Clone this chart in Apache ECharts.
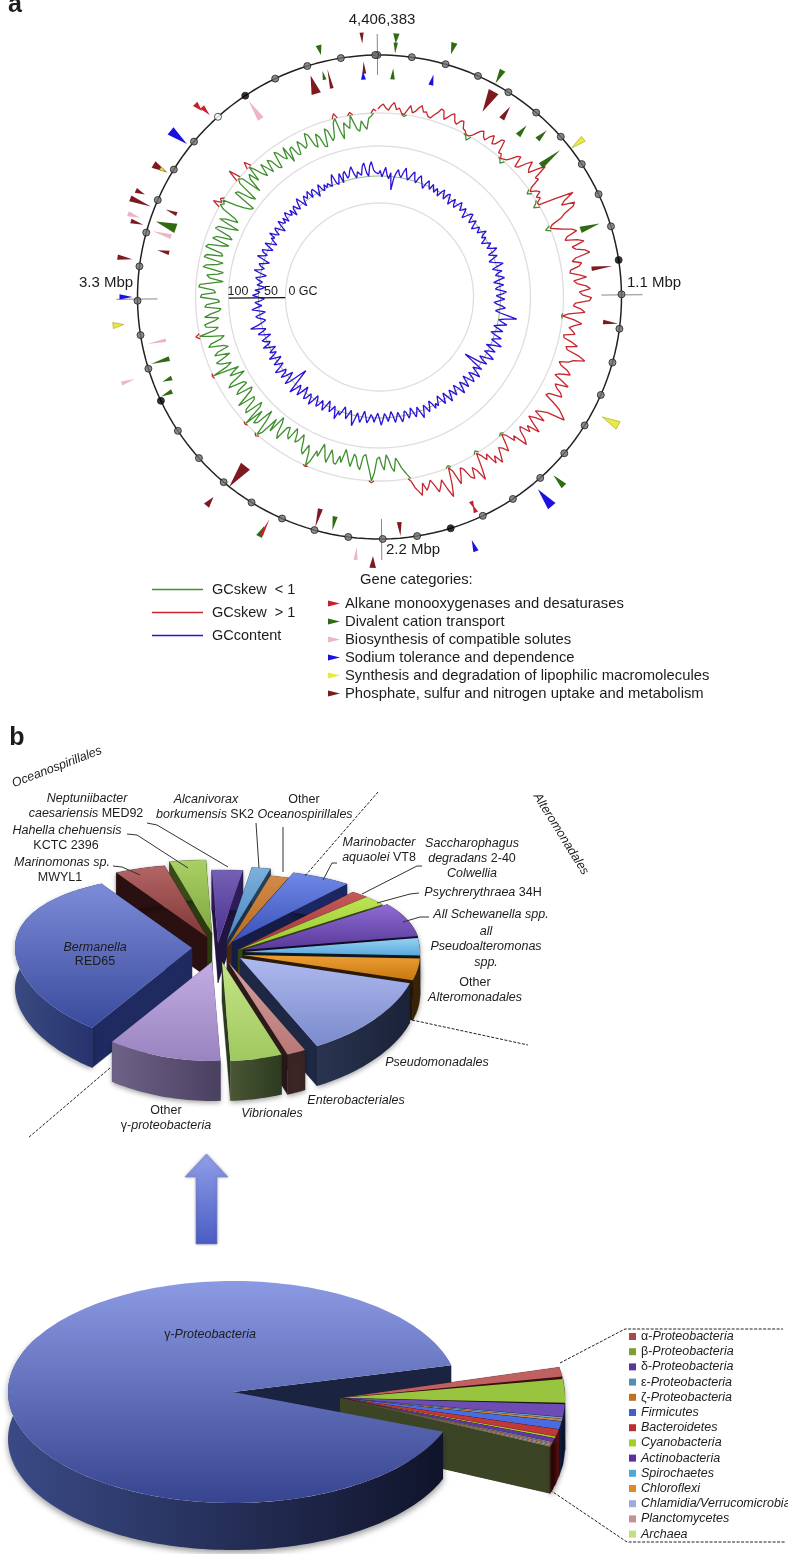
<!DOCTYPE html>
<html><head><meta charset="utf-8">
<style>html,body{margin:0;padding:0;background:#fff}#c{width:788px;height:1554px}</style>
<script src="https://cdn.jsdelivr.net/npm/echarts@6/dist/echarts.min.js"></script>
</head><body><div id="c"></div>
<script>
const genomeKb = 4406.383;
const skewStepKb = 10;
const skewDeviation = [
 4,7,9,5,3,8,11,4,6,1,-2,5,10,3,5,9,12,6,7,3,
 2,6,9,14,13,5,8,12,14,7,5,10,11,4,3,-1,-5,2,6,10,
 12,7,5,11,14,6,8,15,16,3,4,-1,-4,3,7,13,15,4,6,14,
 20,13,10,19,27,12,14,3,-4,5,8,2,5,-2,-6,18,36,25,20,33,
 30,19,14,3,-5,6,12,20,24,13,10,22,28,15,18,27,31,16,12,21,
 18,9,8,17,24,11,14,23,27,16,19,28,26,12,10,18,22,6,-1,12,
 20,13,8,12,15,4,5,14,20,9,11,24,31,20,16,7,10,18,22,12,
 8,17,25,12,15,21,24,11,9,19,28,33,38,20,14,9,22,13,7,15,
 25,12,18,7,10,19,24,9,13,3,-2,9,17,11,8,15,22,12,19,6,
 11,4,-3,14,27,15,10,21,18,8,5,13,20,5,-2,17,29,20,9,15,
 20,12,6,11,15,7,19,14,10,3,-4,-8,-12,-18,-22,-9,-13,-21,-26,-11,
 -16,-24,-22,-8,2,-10,-18,-26,-24,-10,-14,-22,-25,-12,-17,-23,-28,-14,-20,-11,
 -12,-19,-24,-10,-15,-22,-27,-13,-18,-6,1,-14,-20,-9,-12,-21,-27,-19,-16,-25,
 -29,-15,-18,-26,-24,-9,-14,-25,-30,-11,-24,-5,2,-18,-27,-9,-6,-20,1,-22,
 -26,-7,-10,-22,-24,-6,-16,-25,-28,-11,-15,-26,-24,-8,-12,-22,-30,-15,-20,-27,
 1,-16,-22,-12,-8,-18,-24,-9,-13,-25,-21,-6,-9,-20,-24,-11,4,-15,-20,-8,
 -7,-17,-22,-8,-14,-23,-25,-9,-11,-24,-22,-5,-6,-20,-18,-3,-4,-16,-27,-13,
 -10,-21,-26,-5,-8,-19,-24,-4,-6,-22,-20,-3,-5,-18,-25,-7,-10,-26,-22,-6,
 -8,-20,-28,-6,-12,-24,-19,-5,8,-3,3,-14,-22,-28,-30,-6,-8,-21,-26,-4,
 12,-3,-24,-9,-5,-16,7,-6,-14,-19,-6,-13,-20,-7,-10,-20,-22,-5,-8,-15,
 -18,-6,-24,-11,-10,-20,-21,-8,-12,-18,-16,-4,-7,-19,-22,-9,-13,-24,-25,-7,
 -10,-21,-18,-4,5,-14,-22,-6,-10,-13,3,-8,-15,-17,-7,-12,-16,-5,-3,4,
 2];
const gcContent = [
 51,57,46,54,63,49,43,54,24,45,55,61,52,48,58,66,54,46,51,58,
 63,51,45,55,60,52,46,40,51,57,49,43,54,48,42,51,46,39,49,55,
 46,40,51,54,45,37,46,52,43,39,48,55,49,42,46,52,45,36,43,51,
 54,46,39,45,51,43,36,42,49,45,40,48,55,46,42,49,43,37,45,52,
 48,42,49,58,51,40,46,54,45,37,43,52,60,48,39,46,55,46,42,51,
 57,45,37,46,54,43,39,48,58,51,40,46,55,45,36,42,51,57,46,40,
 49,63,79,58,48,55,64,51,42,51,60,48,40,49,61,52,45,55,66,51,
 40,51,60,48,42,54,63,51,39,46,57,45,16,33,55,46,40,51,60,46,
 40,52,58,46,37,48,57,46,40,51,60,46,37,45,54,45,39,49,58,46,
 37,46,55,45,36,43,52,46,54,43,37,48,55,46,40,51,61,49,39,48,
 55,45,37,48,54,43,40,51,58,48,40,49,57,45,37,46,54,45,40,51,
 60,48,39,46,55,46,42,51,57,46,37,48,58,49,42,54,66,51,40,48,
 57,45,37,46,54,48,63,51,42,49,55,45,37,49,58,48,42,52,57,45,
 39,51,61,48,43,54,58,46,37,49,60,48,42,54,64,39,18,32,51,60,
 45,37,49,58,46,42,54,61,49,40,48,55,45,37,48,57,46,40,51,45,
 37,48,58,46,42,51,55,45,37,49,58,48,42,52,68,54,46,39,43,51,
 55,45,37,48,60,51,42,49,54,43,37,48,58,49,45,54,42,37,51,46,
 42,51,55,45,37,49,60,48,43,51,54,45,37,49,61,51,45,54,57,46,
 39,49,57,46,37,45,51,46,58,48,42,51,55,45,37,48,57,48,45,54,
 42,52,58,49,45,54,39,51,55,46,43,54,61,51,40,51,57,49,51,60,
 45,55,58,51,40,51,60,49,45,55,48,54,55,46,58,66,49,45,54,63,
 45,60,64,51,54,63,69,55,48,58,61,51,66,72,54,48,66,73,58,54,
 54];
const tickKb = [];
for (let k = 0; k <= 4400; k += 100) tickKb.push(k);
const majorTicks = [1000,2000,3000,4000];
const openTicks = [3900];
// gene rows: position kb, base track, tip track, span kb
const alkaneGenes = [[3878,267,257,16],[3886,260,249,14],[2532,266,248,9],[1914,236,228,14],[1914,224,232,14]];
const divalentGenes = [[51,264,254,17],[51,255,244,12],[4246,259,249,16],[4239,224,233,12],[48,218,229,15],[3539,215,236,32],[3111,219,238,16],[3050,223,233,15],[3011,228,240,15],[2536,268,256,17],[2349,224,238,16],[1667,264,249,17],[882,212,232,22],[629,208,233,22],[558,223,236,18],[503,213,226,19],[355,258,243,17],[207,265,253,17]];
const solutesGenes = [[4000,214,236,22],[3535,265,252,14],[3509,217,236,16],[3171,218,237,11],[3084,272,258,11],[2273,264,251,11]];
const sodiumGenes = [[4361,218,226,16],[3782,267,246,25],[3311,260,247,14],[1955,272,260,14],[1726,271,249,25],[173,218,229,16]];
const lipophilicGenes = [[3683,254,248,10],[3236,268,257,16],[1454,271,253,22],[645,258,243,17]];
const phosphateGenes = [[4365,265,254,11],[4201,213,232,32],[4255,214,234,12],[4365,224,236,12],[3683,262,246,20],[3600,266,256,14],[3575,268,246,16],[3519,260,247,13],[3583,219,231,13],[3456,215,227,14],[3417,265,250,14],[2679,216,242,37],[2695,271,260,17],[2400,220,239,16],[2227,271,259,17],[2148,226,240,15],[1186,225,240,14],[1015,214,235,15],[428,216,231,19],[362,235,212,33]];
const geneCategories = ['Alkane monooxygenases and desaturases','Divalent cation transport','Biosynthesis of compatible solutes','Sodium tolerance and dependence','Synthesis and degradation of lipophilic macromolecules','Phosphate, sulfur and nitrogen uptake and metabolism'];
// pie b
const orderNames = ['Neptuniibacter caesariensis MED92','Alcanivorax borkumensis SK2','Other Oceanospirillales','Marinobacter aquaolei VT8','Saccharophagus degradans 2-40','Colwellia psychrerythraea 34H','All Schewanella spp.','all Pseudoalteromonas spp.','Other Alteromonadales','Pseudomonadales','Enterobacteriales','Vibrionales','Other γ-proteobacteria','Bermanella RED65','Marinomonas sp. MWYL1','Hahella chehuensis KCTC 2396'];
const orderShares = [2.8,1.7,1.7,5.6,1.7,2.2,7.2,3.3,3.9,13.3,1.7,4.7,10.3,31.9,4.7,3.3];
// pie bottom
const phylumNames = ['α-Proteobacteria','β-Proteobacteria','δ-Proteobacteria','ε-Proteobacteria','ζ-Proteobacteria','Firmicutes','Bacteroidetes','Cyanobacteria','Actinobacteria','Spirochaetes','Chloroflexi','Chlamidia/Verrucomicrobia','Planctomycetes','Archaea'];
const phylumShares = [1.3,2.9,1.5,0.2,0.25,0.9,0.8,0.2,0.45,0.1,0.1,0.1,0.15,0.05];
const gammaShare = 91;

const FONT = '"Liberation Sans", Arial, sans-serif';
const chart = echarts.init(document.getElementById('c'), null, {renderer:'canvas', width:788, height:1554});
const kbOf = i => i * skewStepKb;
const BASE_R = 184, OUTER_R = 242;
function circle(v){ const a = tickKb.flatMap(k => [[v,k],[v,k+25],[v,k+50],[v,k+75]]).filter(p => p[1] < genomeKb); a.push([v,genomeKb]); return a; }
const skewLow = skewDeviation.map((d,i) => {
  const p = skewDeviation[i-1], n = skewDeviation[i+1];
  return [d <= 0 ? BASE_R+d : ((p!==undefined&&p<=0)||(n!==undefined&&n<=0) ? BASE_R : null), kbOf(i)];
});
const skewHigh = skewDeviation.map((d,i) => {
  const p = skewDeviation[i-1], n = skewDeviation[i+1];
  return [d > 0 ? BASE_R+d : ((p!==undefined&&p>0)||(n!==undefined&&n>0) ? BASE_R : null), kbOf(i)];
});
const gcLine = gcContent.map((v,i) => [v,kbOf(i)]);
gcLine.push([gcContent[0],genomeKb]);
const plain = {silent:true, animation:false, symbol:'none', showSymbol:false, clip:false};
function ringSeries(v, color, width){ return Object.assign({type:'line', coordinateSystem:'polar', polarIndex:0, data:circle(v), lineStyle:{color, width}, z:1}, plain); }
function crossSeries(kb){ return Object.assign({type:'line', coordinateSystem:'polar', polarIndex:0, data:[[222,kb],[263,kb]], lineStyle:{color:'#888',width:1}, z:1}, plain); }
function geneSeries(name, color, rows, stroke){
  return {name, type:'custom', coordinateSystem:'polar', polarIndex:0, silent:true, animation:false, clip:false, itemStyle:{color}, z:4,
    data: rows.map(r => [r[1], r[0], r[2], r[3]]),
    renderItem(params, api){
      const base = api.value(0), kb = api.value(1), tip = api.value(2), span = api.value(3);
      const pts = [api.coord([base, kb-span/2]), api.coord([tip, kb]), api.coord([base, kb+span/2])];
      return {type:'polygon', shape:{points:pts}, style:{fill:color, stroke:stroke||'none', lineWidth:stroke?0.6:0}};
    }};
}
const series = [];
[94,151,BASE_R].forEach(r => series.push(ringSeries(r,'#dedede',1.3)));
series.push(Object.assign({type:'line', coordinateSystem:'polar', polarIndex:0, data:circle(121), lineStyle:{color:'#5d9c52',width:0.7}, z:1}, plain));
[0,1101.6,2203.2,3304.8].forEach(k => series.push(crossSeries(k)));
series.push(ringSeries(OUTER_R,'#222',1.5));
series.push(Object.assign({name:'GCskew  < 1', type:'line', coordinateSystem:'polar', polarIndex:0, data:skewLow, itemStyle:{color:'#3f8f2f'}, lineStyle:{color:'#3f8f2f',width:1.3}, z:3}, plain));
series.push(Object.assign({name:'GCskew  > 1', type:'line', coordinateSystem:'polar', polarIndex:0, data:skewHigh, itemStyle:{color:'#c6262e'}, lineStyle:{color:'#c6262e',width:1.3}, z:3}, plain));
series.push(Object.assign({name:'GCcontent', type:'line', coordinateSystem:'polar', polarIndex:1, data:gcLine, itemStyle:{color:'#2a10d8'}, lineStyle:{color:'#2a10d8',width:1.3}, z:3}, plain));
series.push(Object.assign({type:'line', coordinateSystem:'polar', polarIndex:1, data:[[0,3306],[100,3306]], lineStyle:{color:'#111',width:1.2}, z:3}, plain));
series.push({type:'scatter', coordinateSystem:'polar', polarIndex:0, silent:true, animation:false, clip:false, symbolSize:7, z:5,
  data: tickKb.map(k => [OUTER_R,k]),
  itemStyle:{borderColor:'#222', borderWidth:1, color:p => majorTicks.includes(p.value[1]) ? '#000' : openTicks.includes(p.value[1]) ? '#fff' : '#6e6e6e'}});
series.push(geneSeries(geneCategories[5],'#7d1a20',phosphateGenes));
series.push(geneSeries(geneCategories[1],'#2f6b12',divalentGenes));
series.push(geneSeries(geneCategories[0],'#c8202a',alkaneGenes));
series.push(geneSeries(geneCategories[2],'#eeb4c8',solutesGenes));
series.push(geneSeries(geneCategories[3],'#1a10e0',sodiumGenes));
series.push(geneSeries(geneCategories[4],'#eaea3c',lipophilicGenes,'#a0a030'));

// 3D pies
const lg = (a,b,h) => new echarts.graphic.LinearGradient(0,0,h?1:0,h?0:1,[{offset:0,color:a},{offset:1,color:b}]);
function arc(c, a0, a1){
  const out=[], n=Math.max(2,Math.ceil(Math.abs(a1-a0)/1.5));
  for(let i=0;i<=n;i++){ const d=(a0+(a1-a0)*i/n)*Math.PI/180, u=Math.sin(d), v=-Math.cos(d);
    const ry=(c.ryF+c.ryB)/2+(c.ryF-c.ryB)/2*v;
    out.push([c.cx+c.rx*u, c.cy+v*ry]); }
  return out;
}
const down=(p,d)=>[p[0],p[1]+d];
function slicePieces(c, a0, a1, look, rank){
  const pts=arc(c,a0,a1), ap=[c.cx,c.cy], d=c.depth, f=pts[0], l=pts[pts.length-1];
  const kids=[];
  const poly=(points,fill,z,extra)=>kids.push({type:'polygon',z2:rank*10+z,shape:{points},style:Object.assign({fill,stroke:fill.colorStops?null:fill,lineWidth:0.3},extra||{})});
  poly([ap,f,down(f,d),down(ap,d)],look.side,0);
  poly([ap,l,down(l,d),down(ap,d)],look.side,0);
  poly(pts.concat(pts.slice().reverse().map(p=>down(p,d))),look.wall,1,{shadowBlur:5,shadowColor:'rgba(0,0,0,0.35)',shadowOffsetY:2});
  poly([ap].concat(pts),lg(look.top[0],look.top[1]),2);
  return kids;
}
const bApex=[[218,943],[227,940],[227,947],[232,942],[238,950],[238,950],[243,950],[243,952],[243,955],[240,958],[228,962],[222,962],[212,962],[192,948],[207,937],[212,933]];
const bLook=[
 {top:['#7460b4','#4a3190'],wall:'#2c1c58',side:'#21143f'},
 {top:['#7cb0dc','#4a86be'],wall:'#24405c',side:'#1c3148'},
 {top:['#d08a48','#b86a20'],wall:'#5a3515',side:'#452810'},
 {top:['#7088e6','#3a50b8'],wall:'#1c2660',side:'#151c48'},
 {top:['#c65a5a','#a03535'],wall:'#501818',side:'#3c1212'},
 {top:['#bce454','#98c830'],wall:'#4a6018',side:'#364610'},
 {top:['#8e6cd4','#583898'],wall:'#1a1030',side:'#120a24'},
 {top:['#96d2f2','#5aa8dc'],wall:'#14202c',side:'#0e1820'},
 {top:['#ec9e34','#c87a10'],wall:'#3a2408',side:'#2c1a04'},
 {top:['#aeb9ee','#7a8acc'],wall:lg('#2a3450','#1a2238',true),side:'#1e2844'},
 {top:['#d4a09e','#b87876'],wall:'#3a2424',side:'#2c1a1a'},
 {top:['#c4e486','#a0c860'],wall:lg('#4a5634','#2c3a20',true),side:'#2c3a20'},
 {top:['#c2ace2','#9a84c0'],wall:lg('#6e6288','#4a4060',true),side:'#4a4060'},
 {top:['#7c8cd8','#3a4a9c'],wall:lg('#3a4a80','#24306c',true),side:'#1e2a60'},
 {top:['#b46464','#803838'],wall:'#2a1010',side:'#2a1010'},
 {top:['#a8d064','#80a840'],wall:'#3a4a18',side:'#2c3a10'}];
const bCum=[]; orderShares.reduce((s,v,i)=>{bCum[i]=s;return s+v;},0);
const bStart=-2;
const bRank=orderShares.map((v,i)=>-Math.cos((bStart+(bCum[i]+v/2)*3.6)*Math.PI/180));
const bSorted=bRank.map((v,i)=>[v,i]).sort((a,b)=>a[0]-b[0]).map(p=>p[1]);
series.push({type:'custom',name:'Gamma orders',coordinateSystem:'none',silent:true,animation:false,clip:false,z:2,
  data:orderShares.map(v=>[v]),
  renderItem(params,api){
    const i=params.dataIndex, a0=bStart+bCum[i]*3.6, a1=a0+api.value(0)*3.6;
    const c={cx:bApex[i][0],cy:bApex[i][1],rx:177,ryB:73,ryF:99,depth:40};
    return {type:'group',children:slicePieces(c,a0,a1,bLook[i],bSorted.indexOf(i)+1)};
  }});
const PHY=['#a84848','#7aa030','#5a3a98','#5090b8','#c07020','#4060d0','#b83030','#a0d020','#5a30a0','#50a8d8','#e08a20','#a0a8e0','#c89090','#c0e080'];
const phyTop=['#c06060','#98c440','#6e4cb4','#6aaad0','#d08838','#4a6ce0','#c03838','#a8d830','#6038a8','#60b8e0','#e89828','#a8b0e6','#b09080','#a8b890'];
const phyPad=[0.8,0.9,0.3,0,0,0.1,0.1,0,0,0,0,0,0,0];
const phyWall=['#3a1010','#121a0a','#141c3c','#141c3c','#141c3c','#141c3c','#5a1414','#5a1414','#3c0e0e','#3c0e0e','#3c0e0e','#3c0e0e','#3c0e0e','#3c0e0e'];
const gammaC={cx:233,cy:1392,rx:225,ryB:111,ryF:111,depth:47};
const wedgeC={cx:340,cy:1398,rx:225,ryB:135,ryF:135,depth:47};
const gapStart=111;
const phyTotal=phylumShares.reduce((a,b)=>a+b,0);
phylumNames.forEach((n,i)=>{
  const before=phylumShares.slice(0,i).reduce((a,b)=>a+b,0);
  series.push({name:n,type:'custom',coordinateSystem:'none',silent:true,animation:false,clip:false,z:2,itemStyle:{color:PHY[i]},
    data:[[phylumShares[i]]],
    renderItem(params,api){
      const scale=35/phyTotal/3.6;
      const a0=76+before*3.6*scale+phyPad[i], a1=76+(before+api.value(0))*3.6*scale-phyPad[i]*0.3;
      const side=i===phylumNames.length-1?'#3c4426':phyWall[i];
      return {type:'group',children:slicePieces(wedgeC,a0,a1,{top:[phyTop[i],phyTop[i]],wall:phyWall[i],side},100+i)};
    }});
});
series.push({name:'γ-Proteobacteria',type:'custom',coordinateSystem:'none',silent:true,animation:false,clip:false,z:2,
  data:[[gammaShare]],
  renderItem(params,api){
    const a0=gapStart, a1=gapStart+325;
    const pts=arc(gammaC,a0,a1), ap=[gammaC.cx,gammaC.cy], d=gammaC.depth, l=pts[pts.length-1];
    const kids=[];
    kids.push({type:'polygon',z2:500,shape:{points:[ap,l,down(l,d),down(ap,d)]},style:{fill:'#1a2340'}});
    const front=arc(gammaC,a0,300);
    kids.push({type:'polygon',z2:1300,shape:{points:front.concat(front.slice().reverse().map(p=>down(p,d)))},
      style:{fill:lg('#3a4a86','#10142a',true),shadowBlur:6,shadowColor:'rgba(0,0,0,0.4)',shadowOffsetY:3}});
    kids.push({type:'polygon',z2:1310,shape:{points:[ap].concat(pts)},style:{fill:lg('#8c9ae4','#37448f')}});
    return {type:'group',children:kids};
  }});

// annotation graphics
const T=12.5, ink='#1c1c1c';
const rich={i:{fontStyle:'italic',fontSize:T,fontFamily:FONT,fill:ink},n:{fontStyle:'normal',fontSize:T,fontFamily:FONT,fill:ink}};
function txt(x,y,text,o){ o=o||{};
  return {type:'text',x,y,z:100,silent:true,rotation:o.rot?o.rot*Math.PI/180:0,
    style:{text,fontFamily:FONT,fontSize:o.size||T,fontStyle:o.italic?'italic':'normal',fontWeight:o.bold?'bold':'normal',fill:ink,align:o.align||'center',verticalAlign:'middle',rich}};
}
function pl(points,dash,w){ return {type:'polyline',z:60,silent:true,shape:{points},style:{stroke:dash?'#222':'#333',lineWidth:w||1,lineDash:dash?[3,1.5]:null,fill:null}}; }
const I=true;
const gfx=[
 txt(15,5,'a',{size:25,bold:1}), txt(17,738,'b',{size:25,bold:1}),
 txt(382,20,'4,406,383',{size:15}), txt(654,283,'1.1 Mbp',{size:15}), txt(106,283,'3.3 Mbp',{size:15}), txt(413,550,'2.2 Mbp',{size:15}),
 txt(238,292,'100',{size:12.5}), txt(271,292,'50',{size:12.5}), txt(303,292,'0 GC',{size:12.5}),
 txt(360,580,'Gene categories:',{size:14.8,align:'left'}),
 txt(57,767,'Oceanospirillales',{italic:I,rot:21}), txt(561,834,'Alteromonadales',{italic:I,rot:-58}),
 txt(87,799,'Neptuniibacter',{italic:I}), txt(86,814,'{i|caesariensis} MED92'),
 txt(67,831,'Hahella chehuensis',{italic:I}), txt(66,846,'KCTC 2396'),
 txt(62,863,'Marinomonas sp.',{italic:I}), txt(60,878,'MWYL1'),
 txt(206,800,'Alcanivorax',{italic:I}), txt(205,815,'{i|borkumensis} SK2'),
 txt(304,800,'Other'), txt(305,815,'Oceanospirillales',{italic:I}),
 txt(379,843,'Marinobacter',{italic:I}), txt(379,858,'{i|aquaolei} VT8'),
 txt(472,844,'Saccharophagus',{italic:I}), txt(472,859,'{i|degradans} 2-40'), txt(472,874,'Colwellia',{italic:I}),
 txt(483,893,'{i|Psychrerythraea} 34H'), txt(491,915,'All Schewanella spp.',{italic:I}),
 txt(486,932,'all',{italic:I}), txt(486,947,'Pseudoalteromonas',{italic:I}), txt(486,963,'spp.',{italic:I}),
 txt(475,983,'Other'), txt(475,998,'Alteromonadales',{italic:I}),
 txt(437,1063,'Pseudomonadales',{italic:I}), txt(356,1101,'Enterobacteriales',{italic:I}), txt(272,1114,'Vibrionales',{italic:I}),
 txt(166,1111,'Other'), txt(166,1126,'γ-{i|proteobacteria}'),
 txt(95,948,'Bermanella',{italic:I}), txt(95,962,'RED65'),
 txt(210,1335,'γ-{i|Proteobacteria}'),
 pl([[113,866],[122,867],[140,875]]), pl([[127,834],[137,835],[188,868]]), pl([[147,823],[157,825],[228,867]]),
 pl([[256,823],[259,868]]), pl([[283,827],[283,872]]), pl([[337,863],[332,863],[323,880]]),
 pl([[422,866],[417,866],[362,894]]), pl([[419,893],[410,894],[377,903]]), pl([[429,917],[420,917],[403,922]]),
 pl([[378,792],[305,876]],true), pl([[412,1020],[528,1045]],true), pl([[110,1068],[28,1138]],true),
 pl([[560,1363],[625,1329],[783,1329]],true), pl([[550,1490],[627,1542],[785,1542]],true),
 {type:'polygon',z:60,silent:true,shape:{points:[[206.5,1154],[228,1177],[217,1177],[217,1244],[196,1244],[196,1177],[185,1177]]},
  style:{fill:lg('#909fe8','#4a5cc4'),stroke:'#7f8cc8',lineWidth:0.6,shadowBlur:3,shadowColor:'rgba(0,0,0,0.3)'}}
];
const tri='path://M0,0 L12,3 L0,6 Z';
chart.setOption({
  animation:false, backgroundColor:'#fff',
  polar:[{center:[379.5,297],radius:[0,276]},{center:[379.5,297],radius:[94,151]}],
  radiusAxis:[{polarIndex:0,min:0,max:276,show:false},{polarIndex:1,min:0,max:100,show:false}],
  angleAxis:[{polarIndex:0,type:'value',min:0,max:genomeKb,startAngle:90.5,show:false},{polarIndex:1,type:'value',min:0,max:genomeKb,startAngle:90.5,show:false}],
  legend:[
   {left:152,top:581,padding:0,orient:'vertical',selectedMode:false,itemWidth:51,itemHeight:1.5,itemGap:6,formatter:n=>' '+n,textStyle:{fontFamily:FONT,fontSize:14.5,color:ink,lineHeight:17},
    data:['GCskew  < 1','GCskew  > 1','GCcontent'].map(name=>({name,icon:'rect'}))},
   {left:328,top:595,padding:0,orient:'vertical',selectedMode:false,itemWidth:12,itemHeight:6,itemGap:1,textStyle:{fontFamily:FONT,fontSize:14.8,color:ink,lineHeight:17},
    data:geneCategories.map(name=>({name,icon:tri}))},
   {left:629,top:1330,padding:0,orient:'vertical',selectedMode:false,itemWidth:7,itemHeight:7,itemGap:2.2,
    textStyle:{fontFamily:FONT,fontSize:T,color:ink,lineHeight:13,rich},
    formatter:n=>/^[αβδεζ]-/.test(n)?`{n|${n[0]}-}{i|${n.slice(2)}}`:`{i|${n}}`,
    data:phylumNames.map(name=>({name,icon:'rect'}))}
  ],
  graphic:gfx, series
});
</script></body></html>
